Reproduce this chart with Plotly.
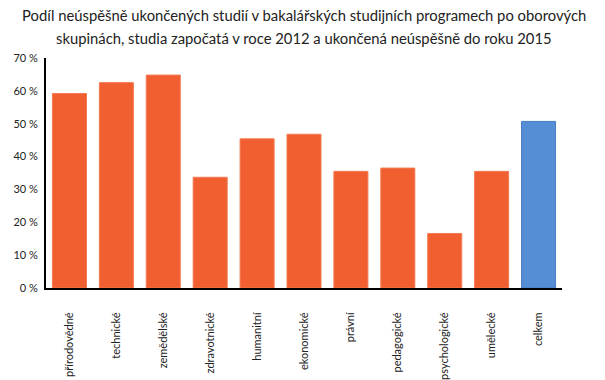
import plotly.graph_objects as go

categories = ["přírodovědné", "technické", "zemědělské", "zdravotnické", "humanitní",
              "ekonomické", "právní", "pedagogické", "psychologické", "umělecké", "celkem"]
values = [59.2, 62.5, 64.8, 33.7, 45.4, 46.8, 35.5, 36.5, 16.6, 35.5, 50.7]
y_ticks = [0, 10, 20, 30, 40, 50, 60, 70]
y_tick_labels = ["0 %", "10 %", "20 %", "30 %", "40 %", "50 %", "60 %", "70 %"]
title_lines = ["Podíl neúspěšně ukončených studií v bakalářských studijních programech po oborových",
               "skupinách, studia započatá v roce 2012 a ukončená neúspěšně do roku 2015"]

orange = "#F15E2F"
blue = "#558ED5"
colors = [blue if c == "celkem" else orange for c in categories]
borders = ["#4A7EC0" if c == "celkem" else "#F47A52" for c in categories]

fig = go.Figure(go.Bar(
    x=categories, y=values,
    marker=dict(color=colors, line=dict(color=borders, width=1)),
    hoverinfo="x+y",
))

fig.update_layout(
    width=605, height=380,
    margin=dict(l=46, r=43, t=58, b=92),
    paper_bgcolor="white", plot_bgcolor="white",
    bargap=0.275,
    showlegend=False,
    font=dict(family="Lato, Noto Sans, sans-serif", color="#222"),
)
for i, line in enumerate(title_lines):
    fig.add_annotation(
        text=line, xref="paper", yref="paper", x=0.5, xanchor="center",
        y=1 + (58 - 15 - 23 * i) / 230, yanchor="middle", showarrow=False,
        font=dict(size=14.8, color="#222"),
    )
fig.update_xaxes(
    showline=True, linecolor="black", linewidth=2, automargin=False,
    tickangle=-90, tickfont=dict(size=11, color="#222"),
    ticks="", ticklabelstandoff=18, showgrid=False,
)
fig.update_yaxes(
    range=[0, 70], tickvals=y_ticks, ticktext=y_tick_labels, automargin=False,
    showline=True, linecolor="black", linewidth=2,
    tickfont=dict(size=11, color="#222"), ticks="", ticklabelstandoff=4,
    showgrid=False, zeroline=False,
)

fig.write_html(
    "out.html",
    config={"displayModeBar": False},
    post_script="document.body.style.margin='0';document.body.style.padding='0';",
)
